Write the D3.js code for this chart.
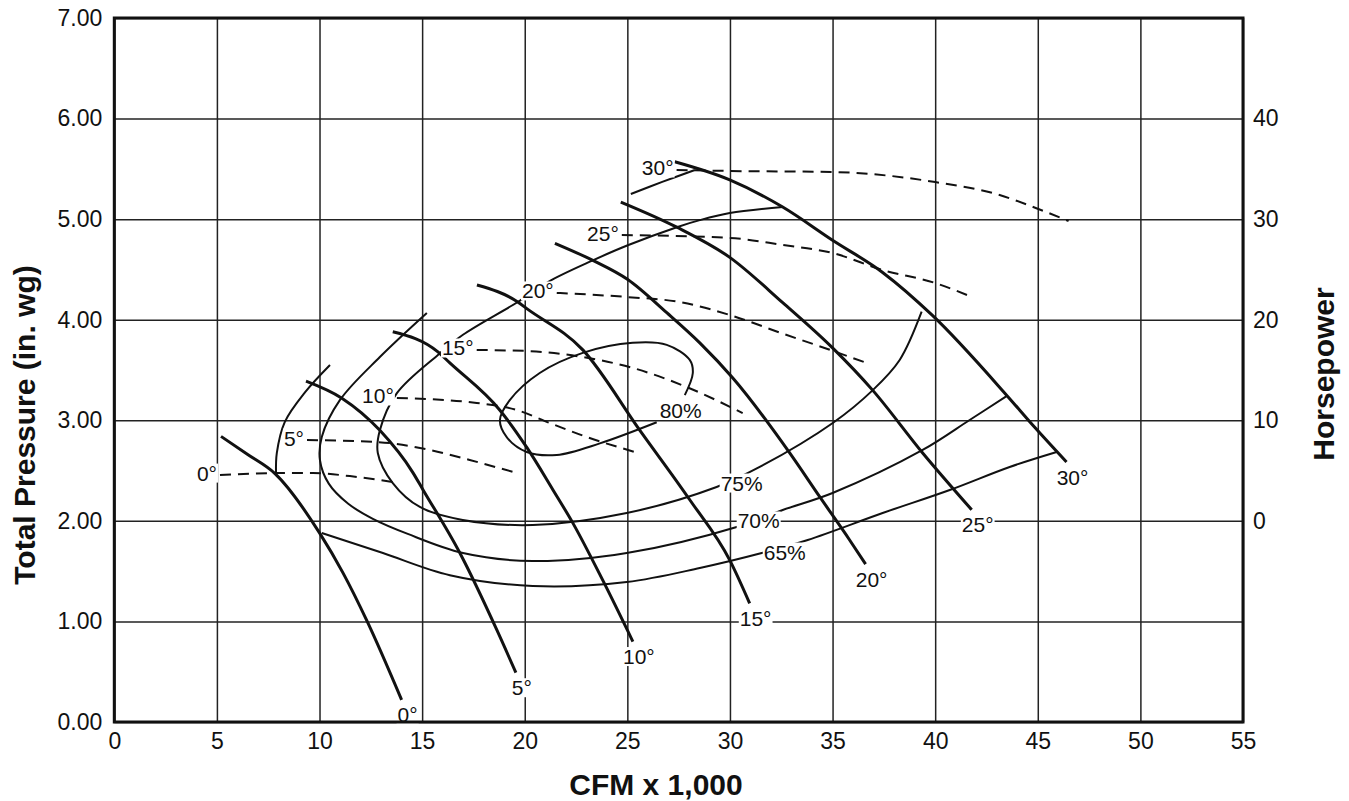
<!DOCTYPE html>
<html><head><meta charset="utf-8">
<script src="https://cdn.jsdelivr.net/npm/d3@7"></script>
<style>
body{margin:0;background:#fff}
text{font-family:"Liberation Sans", Arial, Helvetica, sans-serif;fill:#111}
</style>
</head><body>
<svg id="chart" width="1349" height="801"></svg>
<script>
// ---------------- data ----------------
const cfmTicks = [0,5,10,15,20,25,30,35,40,45,50,55];
const pressureTicks = [0,1,2,3,4,5,6,7];
const hpTicks = [0,10,20,30,40];

const angleLabels = ["0°","5°","10°","15°","20°","25°","30°"];

// Total pressure curves per blade angle: [CFM x1000, in. wg]
const tp0  = [[5.2,2.84],[6.5,2.66],[7.83,2.47],[10.0,1.88],[11.15,1.48],[12.3,1.01],[14.0,0.22]];
const tp5  = [[9.34,3.39],[11.09,3.22],[12.94,2.90],[14.55,2.48],[15.04,2.31],[16.84,1.68],[18.64,0.915],[19.57,0.49]];
const tp10 = [[13.57,3.88],[15.77,3.68],[16.35,3.57],[18.79,3.10],[20.1,2.73],[21.37,2.31],[22.34,1.98],[23.8,1.41],[25.27,0.80]];
const tp15 = [[17.67,4.345],[19.66,4.176],[20.1,4.11],[22.83,3.70],[25.61,2.90],[28.04,2.21],[29.99,1.61],[30.96,1.18]];
const tp20 = [[21.47,4.76],[23.32,4.59],[25.02,4.40],[26.92,4.07],[28.53,3.77],[30.14,3.42],[32.91,2.675],[34.37,2.24],[35.83,1.81],[36.61,1.57]];
const tp25 = [[24.68,5.17],[27.41,4.92],[29.99,4.62],[32.57,4.17],[35.0,3.72],[36.95,3.30],[39.39,2.675],[41.78,2.11]];
const tp30 = [[27.31,5.57],[29.99,5.39],[32.57,5.12],[35.0,4.79],[37.44,4.47],[39.88,4.04],[43.48,3.25],[44.85,2.93],[46.4,2.585]];

// Horsepower curves per blade angle: [CFM x1000, HP]
const hp0  = [[5.15,4.55],[7.83,4.75],[9.68,4.75],[11.48,4.45],[13.57,3.86]];
const hp5  = [[9.39,8.03],[12.8,7.84],[15.38,7.05],[17.32,6.05],[19.61,4.76]];
const hp10 = [[13.77,12.22],[17.66,11.72],[19.61,11.02],[21.22,9.73],[23.02,8.34],[25.36,6.85]];
const hp15 = [[17.66,16.99],[20.1,16.89],[22.83,16.29],[25.27,15.2],[27.89,13.31],[30.62,10.72]];
const hp20 = [[21.56,22.66],[24.97,22.26],[27.55,21.76],[29.99,20.47],[32.57,18.62],[34.61,17.19],[36.66,15.7]];
const hp25 = [[24.73,28.42],[29.99,28.13],[32.57,27.43],[35.0,26.63],[37.44,24.94],[40.0,23.65],[41.78,22.26]];
const hp30 = [[27.4,34.89],[29.99,34.79],[34.96,34.69],[40.0,33.69],[43.14,32.4],[44.9,31.11],[46.5,29.82]];

// Efficiency contours: [CFM x1000, in. wg]
const eff80 = [[26.43,2.98],[23.66,2.77],[21.56,2.655],[20.1,2.685],[19.13,2.83],[18.79,3.00],[19.27,3.20],[20.73,3.47],[22.83,3.67],[25.26,3.77],[26.92,3.75],[28.04,3.60],[28.19,3.47],[27.8,3.25]];
const eff75 = [[32.57,5.12],[29.99,5.06],[28.53,4.99],[27.41,4.92],[25.02,4.74],[23.32,4.59],[21.13,4.375],[19.66,4.176],[16.99,3.85],[15.77,3.65],[13.77,3.27],[12.94,2.90],[12.84,2.675],[13.57,2.376],[14.89,2.138],[16.98,2.009],[20.39,1.959],[24.97,2.078],[29.35,2.337],[31.45,2.536],[35.01,2.973],[36.96,3.30],[38.27,3.60],[39.34,4.08]];
const eff70 = [[15.23,4.067],[12.94,3.629],[10.99,3.20],[10.11,2.834],[10.02,2.605],[10.45,2.37],[11.4,2.17],[12.6,2.02],[14.3,1.87],[16.99,1.68],[20.39,1.60],[24.97,1.68],[30.33,1.939],[32.57,2.108],[35.0,2.277],[39.39,2.705],[41.68,3.003],[43.48,3.24]];
const eff70Upper = [[25.17,5.25],[26.7,5.37],[28.29,5.489]];
const eff65 = [[10.11,1.879],[13.09,1.68],[16.35,1.46],[20.39,1.352],[24.97,1.392],[28.53,1.531],[31.55,1.68],[33.79,1.81],[37.44,2.078],[40.71,2.307],[43.63,2.536],[45.92,2.685]];
const eff65Upper = [[7.88,2.476],[7.92,2.675],[8.3,2.98],[9.3,3.28],[10.51,3.55]];

const effLabels = ["80%","75%","70%","65%"];
const effLabelAt = [[27.6,3.10],[30.57,2.376],[31.4,1.999],[32.67,1.69]];

// ---------------- chart ----------------
const svg = d3.select("#chart");
const L = 114.3, R = 1243, T = 18, B = 722;
const x = d3.scaleLinear().domain([0,55]).range([L,R]);
const y = d3.scaleLinear().domain([0,7]).range([B,T]);
const yHP = d3.scaleLinear().domain([-20,50]).range([B,T]);

// grid + axes
const gx = svg.append("g").attr("transform",`translate(0,${B})`)
  .call(d3.axisBottom(x).tickValues(cfmTicks).tickFormat(d3.format("d")).tickSize(-(B-T)).tickPadding(11));
const gy = svg.append("g").attr("transform",`translate(${L},0)`)
  .call(d3.axisLeft(y).tickValues(pressureTicks).tickFormat(d3.format(".2f")).tickSize(-(R-L)).tickPadding(12));
const gr = svg.append("g").attr("transform",`translate(${R},0)`)
  .call(d3.axisRight(yHP).tickValues(hpTicks).tickFormat(d3.format("d")).tickSize(0).tickPadding(10));
[gx,gy,gr].forEach(g=>{
  g.select(".domain").remove();
  g.selectAll(".tick line").attr("stroke","#222").attr("stroke-width",1.5);
  g.selectAll(".tick text").attr("font-size",23).attr("fill","#111")
   .style("font-family",'"Liberation Sans", Arial, sans-serif');
});

const line = d3.line().x(d=>x(d[0])).y(d=>y(d[1])).curve(d3.curveCatmullRom.alpha(0.5));
const lineMono = d3.line().x(d=>x(d[0])).y(d=>y(d[1])).curve(d3.curveMonotoneX);
const lineHP = d3.line().x(d=>x(d[0])).y(d=>yHP(d[1])).curve(d3.curveMonotoneX);

const curves = svg.append("g").attr("fill","none").attr("stroke","#111");
// efficiency
[eff80,eff75,eff70,eff70Upper,eff65,eff65Upper].forEach(c=>{
  curves.append("path").attr("d",line(c)).attr("stroke-width",2);
});
// horsepower
const hpCurves = [hp0,hp5,hp10,hp15,hp20,hp25,hp30];
hpCurves.forEach(c=>{
  curves.append("path").attr("d",lineHP(c)).attr("stroke-width",2).attr("stroke-dasharray","11,7");
});
// pressure
const tpCurves = [tp0,tp5,tp10,tp15,tp20,tp25,tp30];
tpCurves.forEach(c=>{
  curves.append("path").attr("d",lineMono(c)).attr("stroke-width",3).attr("stroke-linecap","butt");
});

// labels with white backing
const lab = svg.append("g");
function label(txt, px, py, anchor){
  const g = lab.append("g");
  const t = g.append("text").attr("x",px).attr("y",py).attr("font-size",21)
    .attr("text-anchor",anchor).attr("dominant-baseline","central").text(txt);
  const bb = t.node().getBBox();
  g.insert("rect","text").attr("x",bb.x-1).attr("y",bb.y+2).attr("width",bb.width+2).attr("height",bb.height-4).attr("fill","#fff");
}
tpCurves.forEach((c,i)=>{
  const e = c[c.length-1];
  label(angleLabels[i], x(e[0])+6, y(e[1])+15, "middle");
});
hpCurves.forEach((c,i)=>{
  const s = c[0];
  label(angleLabels[i], x(s[0])-3, yHP(s[1])-2, "end");
});
effLabels.forEach((t,i)=>{
  label(t, x(effLabelAt[i][0]), y(effLabelAt[i][1]), "middle");
});

// frame
svg.append("rect").attr("x",L).attr("y",T).attr("width",R-L).attr("height",B-T)
  .attr("fill","none").attr("stroke","#111").attr("stroke-width",3);

// titles
svg.append("text").attr("x",656).attr("y",795).attr("text-anchor","middle")
  .attr("font-size",30).attr("font-weight","bold").text("CFM x 1,000");
svg.append("text").attr("transform","translate(35,425) rotate(-90)").attr("text-anchor","middle")
  .attr("font-size",30).attr("font-weight","bold").text("Total Pressure (in. wg)");
svg.append("text").attr("transform","translate(1334,374) rotate(-90)").attr("text-anchor","middle")
  .attr("font-size",30).attr("font-weight","bold").text("Horsepower");
</script>
</body></html>
